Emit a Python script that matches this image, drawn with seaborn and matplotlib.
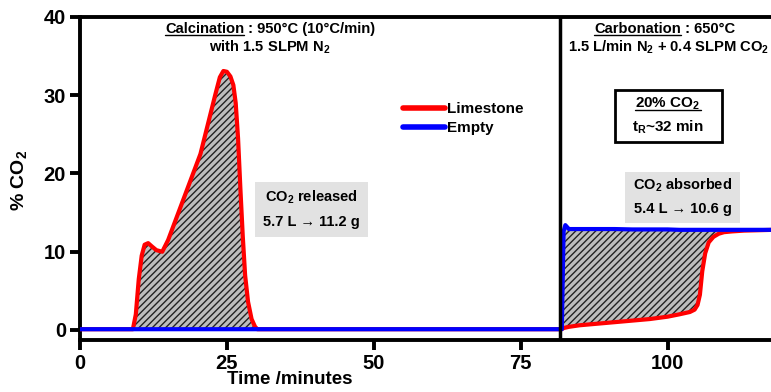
#!/usr/bin/env python3

import matplotlib

matplotlib.use("Agg")
import matplotlib.pyplot as plt
from matplotlib.lines import Line2D
from matplotlib.patches import Rectangle
import pandas as pd
import seaborn as sns

# Time axis (minutes) shared by both runs
time_min = [
    0, 9.0, 9.5, 10.0, 10.5, 11.0, 11.6, 12.2, 13.0, 14.0, 15.0, 16.0,
    17.5, 19.0, 20.5, 22.0, 23.0, 23.8, 24.4, 25.0, 25.6, 26.1, 26.5, 26.9,
    27.3, 27.7, 28.1, 28.6, 29.2, 29.8, 30.2, 50.0, 82.0, 82.3, 82.6, 83.2,
    85.0, 88.0, 91.0, 94.0, 97.0, 100.0, 102.0, 103.8, 104.6, 105.1, 105.5,
    105.9, 106.4, 107.0, 107.8, 108.7, 109.6, 111.0, 113.0, 118.0,
]
limestone_co2 = [
    0.1, 0.1, 2.0, 6.5, 9.5, 10.9, 11.1, 10.7, 10.2, 10.0, 11.5, 13.5,
    16.5, 19.5, 22.5, 27.0, 30.0, 32.3, 33.1, 33.0, 32.4, 31.3, 29.0, 24.5,
    18.0, 12.0, 7.0, 3.6, 1.4, 0.4, 0.1, 0.1, 0.1, 0.25, 0.3, 0.4,
    0.6, 0.8, 1.0, 1.2, 1.4, 1.7, 2.0, 2.3, 2.6, 3.2, 4.5,
    7.5, 9.8, 11.2, 11.9, 12.3, 12.5, 12.6, 12.7, 12.8,
]
empty_co2 = [
    0.1, 0.1, 0.1, 0.1, 0.1, 0.1, 0.1, 0.1, 0.1, 0.1, 0.1, 0.1,
    0.1, 0.1, 0.1, 0.1, 0.1, 0.1, 0.1, 0.1, 0.1, 0.1, 0.1, 0.1,
    0.1, 0.1, 0.1, 0.1, 0.1, 0.1, 0.1, 0.1, 0.1, 12.6, 13.4, 12.9,
    12.9, 12.9, 12.9, 12.85, 12.85, 12.85, 12.8, 12.8, 12.8, 12.8, 12.8,
    12.8, 12.8, 12.8, 12.8, 12.8, 12.8, 12.8, 12.8, 12.8,
]
samples = ["Limestone", "Empty"]
x_ticks = [0, 25, 50, 75, 100]
y_ticks = [0, 10, 20, 30, 40]
switch_time = 81.7

sns.set_theme(style="ticks")
bold = ["Liberation Sans", "DejaVu Sans"]
plt.rcParams["font.family"] = bold
plt.rcParams["font.weight"] = "bold"
plt.rcParams["text.color"] = "black"
plt.rcParams["axes.labelcolor"] = "black"
plt.rcParams["xtick.color"] = "black"
plt.rcParams["ytick.color"] = "black"
plt.rcParams["mathtext.fontset"] = "custom"
plt.rcParams["mathtext.rm"] = "Liberation Sans:bold"
plt.rcParams["mathtext.it"] = "Liberation Sans:bold"
plt.rcParams["mathtext.bf"] = "Liberation Sans:bold"
plt.rcParams["hatch.linewidth"] = 1.0
plt.rcParams["hatch.color"] = "#222222"

df = pd.concat(
    [
        pd.DataFrame({"time": time_min, "co2": limestone_co2, "sample": "Limestone"}),
        pd.DataFrame({"time": time_min, "co2": empty_co2, "sample": "Empty"}),
    ],
    ignore_index=True,
)

fig = plt.figure(figsize=(7.71, 3.92), dpi=100)
ax = fig.add_axes([80 / 771, 52 / 392, 1 - 80 / 771, 323 / 392])

# Hatched area between the two runs
ax.fill_between(
    time_min, limestone_co2, empty_co2,
    facecolor="#bdbdbd", edgecolor="#222222", hatch="/////", linewidth=0, zorder=1,
)

sns.lineplot(
    data=df, x="time", y="co2", hue="sample", hue_order=samples,
    palette={"Limestone": "#ff0000", "Empty": "#0000ff"},
    estimator=None, sort=False, linewidth=3, legend=False, ax=ax, zorder=3,
)

ax.axvline(switch_time, color="black", linewidth=2.5, zorder=4)

ax.set_xlim(0, 117.6)
ax.set_ylim(-1.28, 40)
ax.set_xticks(x_ticks)
ax.set_yticks(y_ticks)
ax.tick_params(axis="both", direction="out", length=7, width=2.8, labelsize=14.5,
               pad=3, colors="black")
for lab in ax.get_xticklabels() + ax.get_yticklabels():
    lab.set_fontweight("bold")
for side in ["left", "bottom", "top"]:
    ax.spines[side].set_linewidth(2.8)
    ax.spines[side].set_color("black")
ax.spines["right"].set_visible(False)

ax.set_xlabel("Time /minutes", fontsize=13.5, fontweight="bold", labelpad=0)
ax.xaxis.set_label_coords(0.304, -0.097)
ax.set_ylabel("% CO$_2$", fontsize=14, fontweight="bold")
ax.yaxis.set_label_coords(-0.074, 0.495)

# Legend
handles = [
    Line2D([0], [0], color="#ff0000", linewidth=4, solid_capstyle="round"),
    Line2D([0], [0], color="#0000ff", linewidth=4, solid_capstyle="round"),
]
ax.legend(
    handles, samples, loc="center left", bbox_to_anchor=(0.468, 0.685),
    frameon=False, handlelength=2.7, handletextpad=0.15,
    labelspacing=0.35, borderpad=0, borderaxespad=0,
    prop={"weight": "bold", "size": 11},
)

fig.canvas.draw()
renderer = fig.canvas.get_renderer()


def px(x, y):
    return fig.transFigure.inverted().transform((x, 392 - y))


def underline(text_obj, drop=1.0):
    bb = text_obj.get_window_extent(renderer)
    y0 = bb.y0 + drop
    fig.add_artist(
        Line2D([bb.x0 / 771, bb.x1 / 771], [y0 / 392, y0 / 392],
               color="black", linewidth=1.0, transform=fig.transFigure)
    )


head = 10.6

# Calcination header
t1 = fig.text(*px(244, 29), "Calcination", ha="right", va="center", fontsize=head, fontweight="bold")
fig.text(*px(244, 29), " : 950°C (10°C/min)", ha="left", va="center", fontsize=head, fontweight="bold")
fig.text(*px(270, 47), "with 1.5 SLPM N$_2$", ha="center", va="center", fontsize=head, fontweight="bold")
underline(t1)

# Carbonation header
t2 = fig.text(*px(681, 29), "Carbonation", ha="right", va="center", fontsize=head, fontweight="bold")
fig.text(*px(681, 29), " : 650°C", ha="left", va="center", fontsize=head, fontweight="bold")
fig.text(*px(668, 47), "1.5 L/min N$_2$ + 0.4 SLPM CO$_2$", ha="center", va="center", fontsize=head, fontweight="bold")
underline(t2)

# Framed residence-time box
bx0, by0 = px(615, 142)
bx1, by1 = px(722, 90)
fig.add_artist(Rectangle((bx0, by0), bx1 - bx0, by1 - by0, transform=fig.transFigure,
                         facecolor="white", edgecolor="black", linewidth=2))
t3 = fig.text(*px(668, 104), "20% CO$_2$", ha="center", va="center", fontsize=11, fontweight="bold")
fig.text(*px(668, 127), "t$_R$~32 min", ha="center", va="center", fontsize=11, fontweight="bold")
underline(t3, drop=2.5)

# Grey summary boxes
for (x0, y0, x1, y1), lines in [
    ((255, 182, 368, 237), ["CO$_2$ released", "5.7 L → 11.2 g"]),
    ((625, 172, 740, 223), ["CO$_2$ absorbed", "5.4 L → 10.6 g"]),
]:
    rx0, ry0 = px(x0, y1)
    rx1, ry1 = px(x1, y0)
    fig.add_artist(Rectangle((rx0, ry0), rx1 - rx0, ry1 - ry0, transform=fig.transFigure,
                             facecolor="#e2e2e2", edgecolor="none"))
    cx = (x0 + x1) / 2
    h = y1 - y0
    fig.text(*px(cx, y0 + h * 0.27), lines[0], ha="center", va="center", fontsize=10.5, fontweight="bold")
    fig.text(*px(cx, y0 + h * 0.73), lines[1], ha="center", va="center", fontsize=10.5, fontweight="bold")

fig.savefig("out.png", dpi=100)
